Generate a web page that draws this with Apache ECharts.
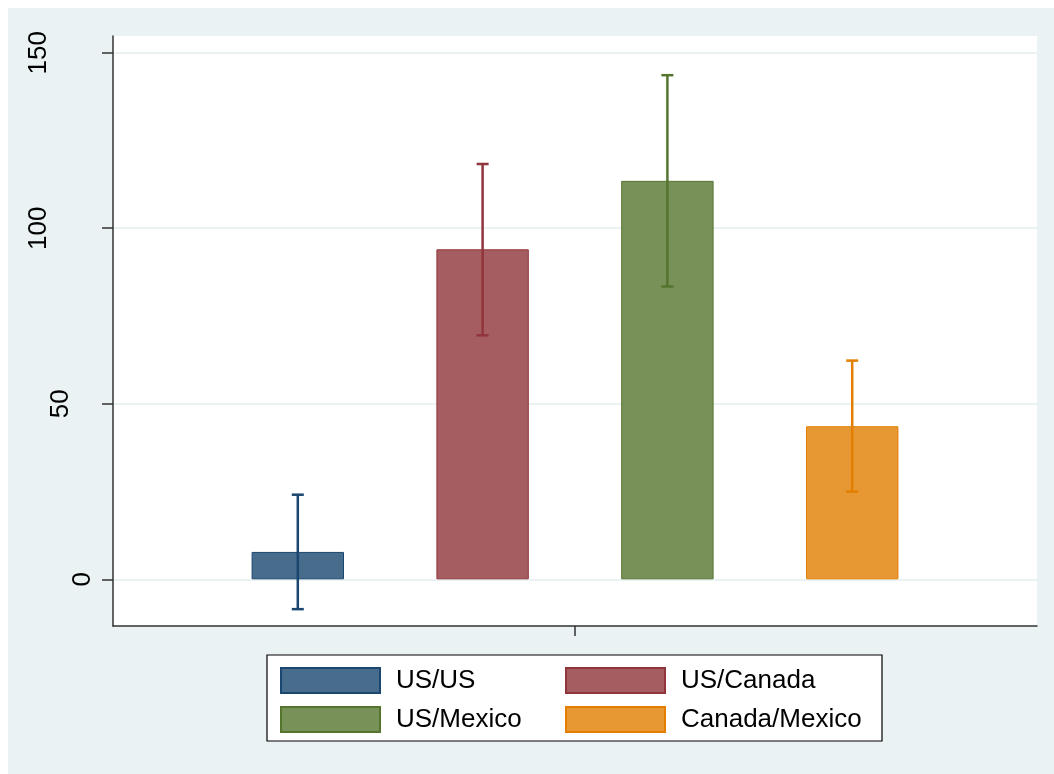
<!DOCTYPE html>
<html>
<head>
<meta charset="utf-8">
<script src="https://cdn.jsdelivr.net/npm/echarts@6/dist/echarts.min.js"></script>
<style>
  html, body { margin: 0; padding: 0; background: #ffffff; }
  #chart { position: absolute; left: 8px; top: 8px; width: 1046px; height: 766px; }
</style>
</head>
<body>
<div id="chart"></div>
<script>
// ---- data ----
const categories = [''];
const seriesNames = ['US/US', 'US/Canada', 'US/Mexico', 'Canada/Mexico'];
const meanValues = [7.8, 94.0, 113.5, 43.6];
const lowerValues = [-8.5, 69.5, 83.4, 25.0];
const upperValues = [24.1, 118.3, 143.6, 62.3];
const yTickValues = [0, 50, 100, 150];

// ---- styles ----
const fillColors = ['#486c8c', '#a65d62', '#779159', '#e89833'];
const lineColors = ['#1a476f', '#90353b', '#55752f', '#e37e00'];
const font = "'Liberation Sans', Arial, Helvetica, sans-serif";
const labelPads = [0, 22, 44, 44];

const chart = echarts.init(document.getElementById('chart'), null, { renderer: 'canvas' });

const barSeries = seriesNames.map((name, i) => ({
  name: name,
  type: 'bar',
  barWidth: '10%',
  barGap: '100%',
  data: [meanValues[i]],
  itemStyle: { color: fillColors[i], borderColor: lineColors[i], borderWidth: 1 },
  emphasis: { disabled: true },
  z: 2
}));

const errData = seriesNames.map((n, i) => [0, lowerValues[i], upperValues[i], i]);

const rich = { t: { fontSize: 26, fontFamily: font, color: '#000', lineHeight: 26 } };
yTickValues.forEach((v, k) => {
  rich['s' + k] = { fontSize: 2, lineHeight: Math.max(labelPads[k], 1), color: 'rgba(0,0,0,0)' };
});

chart.setOption({
  backgroundColor: '#eaf2f3',
  animation: false,
  grid: {
    left: 105, right: 17, top: 28, bottom: 148,
    show: true, backgroundColor: '#ffffff', borderWidth: 0
  },
  xAxis: {
    type: 'category',
    data: categories,
    axisLine: { show: true, onZero: false, lineStyle: { color: '#333333', width: 1.5 } },
    axisTick: { show: true, alignWithLabel: true, length: 10, lineStyle: { color: '#333333', width: 1.5 } },
    axisLabel: { show: false },
    splitLine: { show: false }
  },
  yAxis: {
    type: 'value',
    min: -13.3,
    max: 154.76,
    axisLine: { show: true, onZero: false, lineStyle: { color: '#333333', width: 1.5 } },
    axisTick: { show: true, length: 11, customValues: yTickValues, lineStyle: { color: '#333333', width: 1.5 } },
    axisLabel: {
      show: true,
      customValues: yTickValues,
      rotate: 90,
      margin: 17,
      verticalAlign: 'bottom',
      align: 'center',
      formatter: function (v) {
        const k = yTickValues.indexOf(v);
        return labelPads[k] > 0 ? ('{t|' + v + '}\n{s' + k + '| }') : ('{t|' + v + '}');
      },
      rich: rich
    },
    splitLine: { show: true, lineStyle: { color: '#eaf2f3', width: 2 } }
  },
  graphic: [{
    type: 'rect',
    shape: { x: 259, y: 647, width: 615, height: 86 },
    style: { fill: '#ffffff', stroke: '#000000', lineWidth: 1.2 },
    z: 0
  }],
  legend: [
    {
      data: [seriesNames[0], seriesNames[2]],
      orient: 'vertical', left: 272, top: 659, padding: 0,
      itemWidth: 99, itemHeight: 25, itemGap: 12, icon: 'rect',
      textStyle: { fontSize: 26, fontFamily: font, color: '#000', lineHeight: 25, padding: [0, 0, 0, 11] },
      selectedMode: false
    },
    {
      data: [seriesNames[1], seriesNames[3]],
      orient: 'vertical', left: 557, top: 659, padding: 0,
      itemWidth: 99, itemHeight: 25, itemGap: 12, icon: 'rect',
      textStyle: { fontSize: 26, fontFamily: font, color: '#000', lineHeight: 25, padding: [0, 0, 0, 11] },
      selectedMode: false
    }
  ],
  series: barSeries.concat([{
    type: 'custom',
    name: 'errors',
    z: 5,
    data: errData,
    encode: { x: 0, y: [1, 2] },
    renderItem: function (params, api) {
      const i = api.value(3);
      const lo = api.coord([api.value(0), api.value(1)]);
      const hi = api.coord([api.value(0), api.value(2)]);
      const band = api.size([1, 0])[0];
      const x = lo[0] + (i - 1.5) * 2 * 0.1 * band;
      const cw = 6;
      const st = { stroke: lineColors[i], lineWidth: 2.5 };
      return {
        type: 'group',
        children: [
          { type: 'line', shape: { x1: x, y1: hi[1], x2: x, y2: lo[1] }, style: st },
          { type: 'line', shape: { x1: x - cw, y1: hi[1], x2: x + cw, y2: hi[1] }, style: st },
          { type: 'line', shape: { x1: x - cw, y1: lo[1], x2: x + cw, y2: lo[1] }, style: st }
        ]
      };
    }
  }])
});
</script>
</body>
</html>
